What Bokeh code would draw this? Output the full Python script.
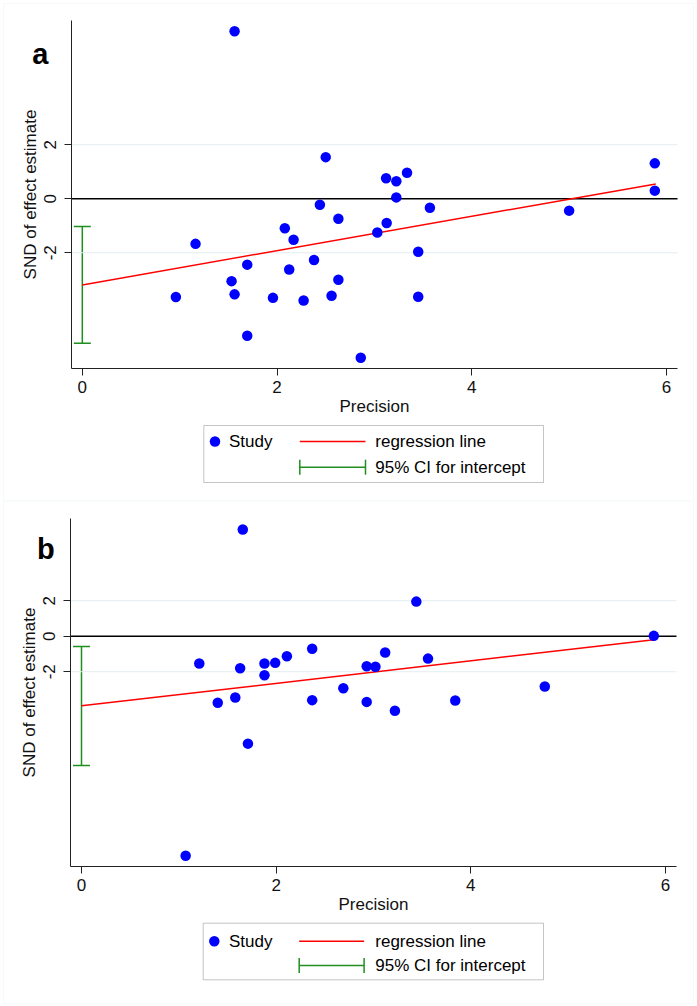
import numpy as np
from bokeh.plotting import figure
from bokeh.models import (Range1d, FixedTicker, Whisker, TeeHead, ColumnDataSource,
                          Label, BoxAnnotation)
from bokeh.layouts import column
from bokeh.embed import file_html
from bokeh.resources import INLINE

FONT = "Liberation Sans"
BLUE = "#0000ff"
RED = "#ff0000"
GREEN = "#1f8f1f"
AXIS = "#222222"
GRID = "#e2edf0"
FRAME = "#e1ecef"

# ---------------- data ----------------
x_ticks = [0, 2, 4, 6]
y_ticks = [-2, 0, 2]
y_tick_labels = {-2: "-2", 0: "0", 2: "2"}

# panel a
a_precision = [0.961, 1.163, 1.533, 1.564, 1.564, 1.694, 1.694, 1.958, 2.08, 2.125, 2.17,
               2.273, 2.38, 2.44, 2.50, 2.56, 2.63, 2.63, 2.86, 3.03, 3.12, 3.126, 3.225,
               3.225, 3.335, 3.45, 3.45, 3.57, 5.0, 5.88, 5.88]
a_snd = [-3.64, -1.67, -3.05, 6.2, -3.54, -2.44, -5.07, -3.67, -1.09, -2.62, -1.52,
         -3.77, -2.27, -0.22, 1.54, -3.59, -0.74, -3.0, -5.89, -1.25, 0.76, -0.90, 0.65,
         0.05, 0.96, -1.96, -3.63, -0.33, -0.44, 1.31, 0.30]
a_reg_x = [0.0, 5.89]
a_reg_y = [-3.19, 0.55]
a_ci_lower = [-5.35]
a_ci_upper = [-1.03]

# panel b
b_precision = [1.07, 1.21, 1.40, 1.58, 1.63, 1.657, 1.71, 1.88, 1.88, 1.99, 2.11, 2.37,
               2.37, 2.69, 2.93, 2.93, 3.02, 3.12, 3.22, 3.44, 3.56, 3.84, 4.76, 5.88]
b_snd = [-12.36, -1.54, -3.75, -3.45, -1.80, 6.01, -6.05, -1.54, -2.20, -1.50, -1.13, -0.71,
         -3.6, -2.93, -1.69, -3.70, -1.72, -0.92, -4.2, 1.95, -1.26, -3.62, -2.83, 0.02]
b_reg_x = [0.0, 5.88]
b_reg_y = [-3.92, -0.20]
b_ci_lower = [-7.28]
b_ci_upper = [-0.58]

ci_base = [0.0]

legend_labels = ["Study", "regression line", "95% CI for intercept"]

W = 697


def make_panel(tag, prec, snd, reg_x, reg_y, ci_lo, ci_hi, height,
               pl, pr, pt, pbm, xlim, ylim, tag_xy, leg, border):
    # map the plotting area (pixels) to the data limits; the canvas is the frame
    kx = (xlim[1] - xlim[0]) / (pr - pl)
    ky = (ylim[1] - ylim[0]) / (pbm - pt)
    x0 = xlim[0] - pl * kx
    x1 = xlim[1] + (W - pr) * kx
    y1 = ylim[1] + pt * ky
    y0 = ylim[0] - (height - pbm) * ky

    def X(px):
        return x0 + px * kx

    def Y(py):
        return y1 - py * ky

    p = figure(width=W, height=height, title=None,
               x_range=Range1d(x0, x1), y_range=Range1d(y0, y1),
               output_backend="svg", toolbar_location=None,
               min_border_left=0, min_border_right=0,
               min_border_top=0, min_border_bottom=0)
    p.outline_line_color = None
    p.background_fill_color = "white"
    p.border_fill_color = "white"

    # axes (library axes, pinned at the plot-area edge)
    for ax in (p.xaxis[0], p.yaxis[0]):
        ax.axis_line_color = AXIS
        ax.axis_line_width = 1
        ax.major_tick_line_color = AXIS
        ax.major_tick_out = 7
        ax.major_tick_in = 0
        ax.minor_tick_line_color = None
        ax.major_label_text_font = FONT
        ax.major_label_text_font_size = "17px"
        ax.major_label_text_color = "#111111"
        ax.axis_label_text_font = FONT
        ax.axis_label_text_font_size = "17px"
        ax.axis_label_text_font_style = "normal"
        ax.axis_label_text_color = "#111111"
    p.xaxis.ticker = FixedTicker(ticks=x_ticks)
    p.yaxis.ticker = FixedTicker(ticks=y_ticks)
    p.yaxis.major_label_overrides = y_tick_labels
    p.xaxis.axis_label = "Precision"
    p.yaxis.axis_label = "SND of effect estimate"
    p.yaxis.major_label_orientation = "vertical"
    p.xaxis.major_label_standoff = 5
    p.yaxis.major_label_standoff = 8
    p.xaxis.axis_label_standoff = 1
    p.yaxis.axis_label_standoff = 2
    p.xaxis.fixed_location = ylim[0]
    p.yaxis.fixed_location = xlim[0]
    p.xaxis.bounds = (xlim[0], xlim[1])
    p.yaxis.bounds = (ylim[0], ylim[1])

    p.xgrid.grid_line_color = None
    p.ygrid.grid_line_color = None
    # light grid lines and the black reference line at zero, across the plot area
    gy = [t for t in y_ticks if t != 0]
    p.segment([xlim[0]] * len(gy), gy, [xlim[1]] * len(gy), gy,
              line_color=GRID, line_width=1)
    p.segment([xlim[0]], [0], [xlim[1]], [0], line_color="black", line_width=1.5)

    # CI for intercept
    src = ColumnDataSource(dict(base=ci_base, lower=ci_lo, upper=ci_hi))
    p.add_layout(Whisker(source=src, base="base", lower="lower", upper="upper",
                         dimension="height", line_color=GREEN, line_width=1.5,
                         upper_head=TeeHead(size=17, line_color=GREEN, line_width=1.5),
                         lower_head=TeeHead(size=17, line_color=GREEN, line_width=1.5)))

    p.line(reg_x, reg_y, line_color=RED, line_width=1.5)
    p.scatter(prec, snd, size=10.5, marker="circle", fill_color=BLUE, line_color=None)

    # outer panel border
    bx0, by0, bx1, by1 = border
    p.add_layout(BoxAnnotation(left=X(bx0), right=X(bx1), top=Y(by0), bottom=Y(by1),
                               fill_alpha=0, line_color=FRAME, line_width=1))

    # panel tag
    p.add_layout(Label(x=X(tag_xy[0]), y=Y(tag_xy[1]),
                       text=tag, text_font=FONT, text_font_size="29px",
                       text_font_style="bold", text_color="black",
                       text_baseline="alphabetic", text_align="left"))

    # legend
    lx0, lx1, ly0, ly1, row1, row2, dotx, studyx, linex0, linex1, textx = leg
    p.add_layout(BoxAnnotation(left=X(lx0), right=X(lx1), top=Y(ly0), bottom=Y(ly1),
                               fill_alpha=0, line_color="#404040", line_width=1))
    p.scatter([X(dotx)], [Y(row1)], size=10.5, marker="circle", fill_color=BLUE,
              line_color=None)
    p.segment([X(linex0)], [Y(row1)], [X(linex1)], [Y(row1)], line_color=RED, line_width=1.5)
    ksrc = ColumnDataSource(dict(base=[Y(row2)], lower=[X(linex0)], upper=[X(linex1)]))
    p.add_layout(Whisker(source=ksrc, base="base", lower="lower", upper="upper",
                         dimension="width", line_color=GREEN, line_width=1.5,
                         upper_head=TeeHead(size=15, line_color=GREEN, line_width=1.5),
                         lower_head=TeeHead(size=15, line_color=GREEN, line_width=1.5)))
    for txt, x, y in ((legend_labels[0], studyx, row1),
                      (legend_labels[1], textx, row1),
                      (legend_labels[2], textx, row2)):
        p.add_layout(Label(x=X(x), y=Y(y), text=txt, text_font=FONT, text_font_size="17px",
                           text_color="black", text_baseline="middle", text_align="left"))
    return p


pa = make_panel("a", a_precision, a_snd, a_reg_x, a_reg_y, a_ci_lower, a_ci_upper, 501,
                71, 677, 20, 368, (-0.111, 6.113), (-6.285, 6.60), (31.7, 53),
                (203.3, 543, 425, 482, 441, 466.7, 214.5, 228.5, 299.3, 365, 374.8),
                (3, 3, 693, 500))
pb = make_panel("b", b_precision, b_snd, b_reg_x, b_reg_y, b_ci_lower, b_ci_upper, 505,
                70, 676, 17, 365, (-0.113, 6.113), (-12.97, 6.63), (36.5, 47),
                (202.7, 543, 421.7, 478.3, 439.7, 464, 213.8, 228.5, 298.7, 363.6, 374.8),
                (3, 0.5, 693, 502))

layout = column(pa, pb, spacing=0)
open("out.html", "w").write(file_html(layout, INLINE))
